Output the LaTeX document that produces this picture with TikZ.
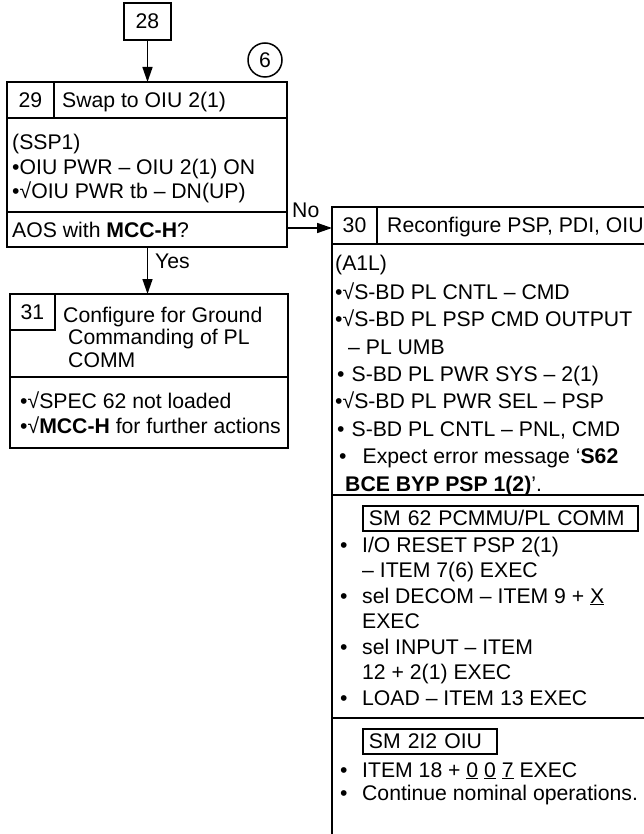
\documentclass[tikz,border=0pt]{standalone}
\usepackage{fontspec}
\setmainfont{Liberation Sans}
\usetikzlibrary{arrows.meta}

\providecommand{\flowBorderWidth}{2.4pt}
\providecommand{\flowRuleWidth}{2pt}
\providecommand{\flowArrowWidth}{1.5pt}
\newcommand{\flowFont}[1]{\fontsize{21.2}{#1}\selectfont}

\tikzset{
  frame/.style={draw, line width=\flowBorderWidth, anchor=north west, inner sep=0pt, outer sep=0pt},
  rule/.style={line width=\flowRuleWidth},
  flow/.style={line width=\flowArrowWidth, -{Triangle[length=15pt,width=10pt]}},
  lbl/.style={inner sep=0pt, font=\flowFont{25}},
  txt/.style={inner sep=0pt, anchor=base west, align=left, font=\flowFont{25}},
  smbox/.style={draw, line width=1.8pt, anchor=north west, inner xsep=6pt, inner ysep=0pt, minimum height=25pt, align=left, font=\flowFont{25}}
}

\begin{document}
\begin{tikzpicture}[x=1pt, y=-1pt]
% Page: same size as the reference, the long block runs off it
\useasboundingbox (0,0) rectangle (644,834);
\clip (0,0) rectangle (644,834);

% Block 28 and marker 6
\node[frame, line width=2pt, minimum width=47pt, minimum height=37pt] (b28) at (124,3) {};
\node[lbl] (n28) at (b28.center) {28};
\node[draw, circle, line width=1.5pt, minimum size=34pt, inner sep=0pt, font=\flowFont{25}] (c6) at (265,60) {6};

% Block 29 (multi-line texts sit on their last baseline)
\node[frame, minimum width=280pt, minimum height=165pt] (b29) at (7,82) {};
\draw[rule] (7,118) -- (287,118);
\draw[rule] (54,82) -- (54,118);
\draw[rule] (7,212) -- (287,212);
\node[lbl] (n29) at (30.5,100) {29};
\node[txt] (t29) at (62,107.6) {Swap to OIU 2(1)};
\node[txt, font=\flowFont{24.5}] (s29) at (12,199) {(SSP1)\\
  •OIU PWR – OIU 2(1) ON\\
  •√OIU PWR tb – DN(UP)};
\coordinate (aos) at (7,228);
\node[txt] (q29) at (12,237) {AOS with \textbf{MCC-H}?};

% Block 31
\node[frame, minimum width=278pt, minimum height=154pt] (b31) at (10,294) {};
\draw[rule] (55,294) -- (55,330) -- (10,330);
\draw[rule] (10,377) -- (288,377);
\node[lbl] (n31) at (32.5,312) {31};
\node[txt, font=\flowFont{22.5}] (t31) at (63,367) {Configure for Ground\\
  \hspace*{5pt}Commanding of PL\\
  \hspace*{5pt}COMM};
\node[txt] (s31) at (20,433) {•√SPEC 62 not loaded\\
  •√\textbf{MCC-H} for further actions};

% Block 30
\node[frame, minimum width=348pt, minimum height=673pt] (b30) at (332,207) {};
\draw[rule] (332,244) -- (680,244);
\draw[rule] (377,207) -- (377,244);
\draw[rule] (332,495) -- (680,495);
\draw[rule] (332,718) -- (680,718);
\node[lbl] (n30) at (354.5,225.5) {30};
\node[txt] (t30) at (387,233) {Reconfigure PSP, PDI, OIU};
\node[txt, font=\flowFont{27.4}] (s30) at (335,491) {(A1L)\\[1pt]
  •√S-BD PL CNTL – CMD\\
  •√S-BD PL PSP CMD OUTPUT\\
  \hspace*{13pt}– PL UMB\\
  \hspace*{2pt}•\hspace{7pt}S-BD PL PWR SYS – 2(1)\\
  •√S-BD PL PWR SEL – PSP\\
  \hspace*{2pt}•\hspace{7pt}S-BD PL CNTL – PNL, CMD\\
  \hspace*{4pt}•\hspace{16pt}Expect error message ‘\textbf{S62}\\
  \hspace*{10pt}\textbf{BCE BYP PSP 1(2)}’.};
\node[smbox, text width=263pt] (sm62) at (362,505) {SM 62 PCMMU/PL COMM};
\node[txt, font=\flowFont{25.5}] (l62) at (340,705) {\makebox[22pt][l]{•}I/O RESET PSP 2(1)\\
  \hspace*{22pt}– ITEM 7(6) EXEC\\
  \makebox[22pt][l]{•}sel DECOM – ITEM 9 + \underline{X}\\
  \hspace*{22pt}EXEC\\
  \makebox[22pt][l]{•}sel INPUT – ITEM\\
  \hspace*{22pt}12 + 2(1) EXEC\\
  \makebox[22pt][l]{•}LOAD – ITEM 13 EXEC};
\node[smbox, text width=122pt] (sm2) at (362,728) {SM 2I2 OIU};
\node[txt, font=\flowFont{23.5}] (l2) at (340,800.5) {\makebox[22pt][l]{•}ITEM 18 + \underline{0} \underline{0} \underline{7} EXEC\\
  \makebox[22pt][l]{•}Continue nominal operations.};

% Connectors
\draw[flow] (b28) -- (b28 |- b29.north);
\draw[flow] (b28 |- b29.south) -- (b28 |- b31.north);
\draw[flow] (aos -| b29.east) -- (aos -| b30.west);
\node[lbl, anchor=base west] (lno) at (292,218) {No};
\node[lbl, anchor=base west] (lyes) at (155,268) {Yes};
\end{tikzpicture}
\end{document}
